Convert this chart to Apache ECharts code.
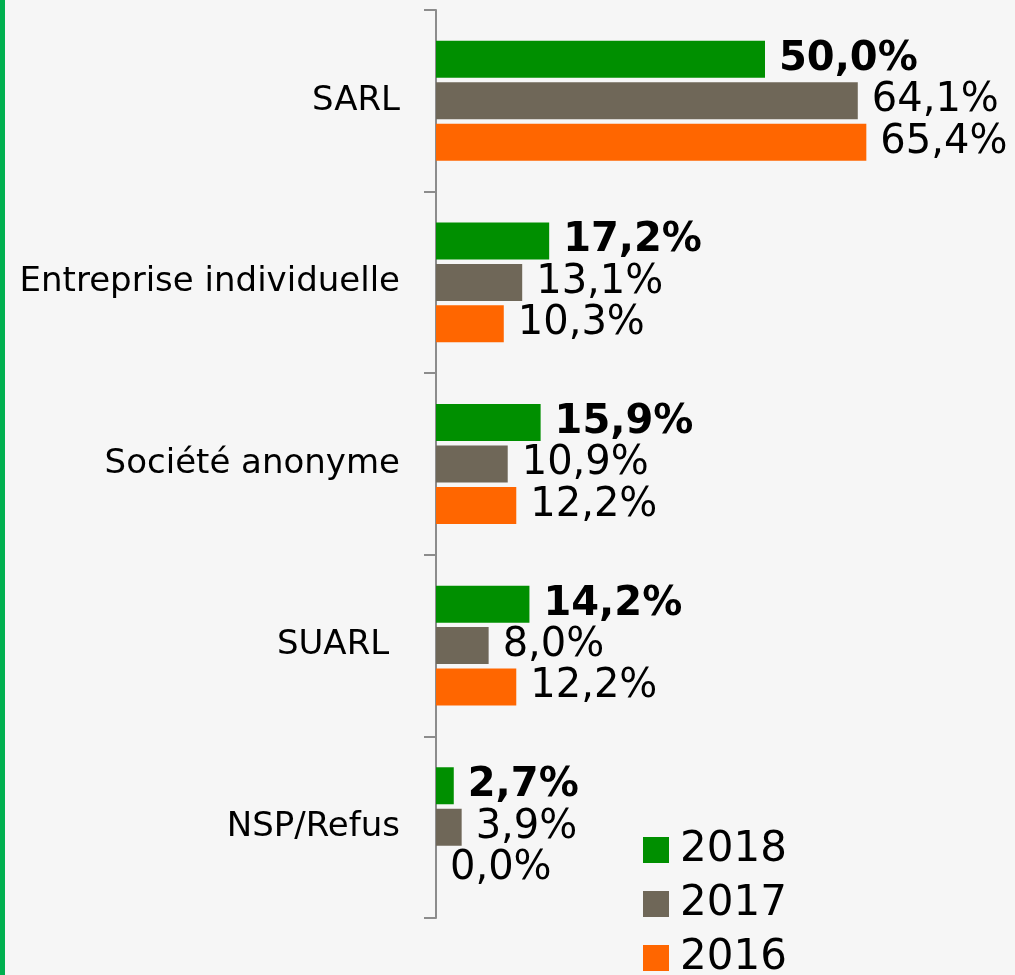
<!DOCTYPE html>
<html>
<head>
<meta charset="utf-8">
<script src="https://cdn.jsdelivr.net/npm/echarts@6/dist/echarts.min.js"></script>
<style>
  html, body { margin: 0; padding: 0; background: #f6f6f6; }
  #chart { width: 1015px; height: 975px; }
</style>
</head>
<body>
<div id="chart"></div>
<script>
const categories = ['SARL', 'Entreprise individuelle', 'Société anonyme', 'SUARL ', 'NSP/Refus'];
const years = ['2018', '2017', '2016'];
const values2018 = [50.0, 17.2, 15.9, 14.2, 2.7];
const values2017 = [64.1, 13.1, 10.9, 8.0, 3.9];
const values2016 = [65.4, 10.3, 12.2, 12.2, 0.0];
const colors = ['#008f00', '#6f6758', '#ff6600'];

const fmt = (p) => p.value.toFixed(1).replace('.', ',') + '%';

const makeSeries = (name, data, color, bold) => ({
  name: name,
  type: 'bar',
  data: data,
  barWidth: 37,
  barGap: '12%',
  itemStyle: { color: color },
  label: {
    show: true,
    position: 'right',
    distance: 14,
    formatter: fmt,
    color: '#000',
    fontSize: 40,
    fontWeight: bold ? 'bold' : 'normal',
    fontFamily: 'DejaVu Sans'
  }
});

const chart = echarts.init(document.getElementById('chart'));
chart.setOption({
  backgroundColor: '#f6f6f6',
  animation: false,
  graphic: [{
    type: 'rect',
    left: 0, top: 0,
    shape: { width: 5, height: 975 },
    style: { fill: '#00b050' }
  }],
  legend: {
    orient: 'vertical',
    left: 643,
    top: 828,
    height: 170,
    padding: 0,
    data: years,
    icon: 'rect',
    itemWidth: 26,
    itemHeight: 26,
    itemGap: 10,
    textStyle: {
      fontSize: 42,
      lineHeight: 44,
      color: '#000',
      fontFamily: 'DejaVu Sans',
      padding: [0, 0, 0, 6]
    }
  },
  grid: { left: 436, right: 52.6, top: 10, bottom: 57, containLabel: false },
  xAxis: {
    type: 'value',
    min: 0,
    max: 80,
    show: false
  },
  yAxis: {
    type: 'category',
    inverse: true,
    data: categories,
    axisLine: { show: true, lineStyle: { color: '#8c8c8c', width: 2 } },
    axisTick: { show: true, length: 12, alignWithLabel: false, lineStyle: { color: '#8c8c8c', width: 2 } },
    axisLabel: {
      margin: 36,
      fontSize: 34,
      color: '#000',
      fontFamily: 'DejaVu Sans'
    }
  },
  series: [
    makeSeries(years[0], values2018, colors[0], true),
    makeSeries(years[1], values2017, colors[1], false),
    makeSeries(years[2], values2016, colors[2], false)
  ]
});
</script>
</body>
</html>
